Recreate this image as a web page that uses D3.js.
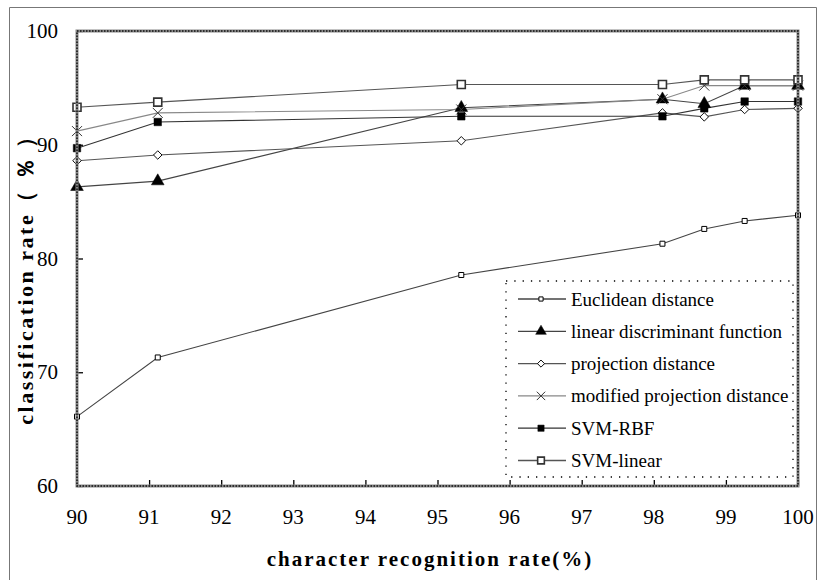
<!DOCTYPE html>
<html>
<head>
<meta charset="utf-8">
<script src="https://cdn.jsdelivr.net/npm/d3@7"></script>
<style>
  body { margin: 0; background: #fff; }
  svg { display: block; }
</style>
</head>
<body>
<script>
// Chart data
var recognitionRates = [90, 91.12, 95.33, 98.12, 98.7, 99.26, 100];
var euclideanDistance = [66.1, 71.3, 78.55, 81.3, 82.6, 83.3, 83.8];
var linearDiscriminant = [86.3, 86.8, 93.25, 94.0, 93.6, 95.2, 95.2];
var projectionDistance = [88.6, 89.1, 90.35, 92.8, 92.45, 93.1, 93.2];
var modifiedProjection = [91.2, 92.8, 93.1, 94.0, 95.2, 95.2, 95.2];
var svmRbf = [89.7, 92.0, 92.5, 92.5, 93.2, 93.8, 93.8];
var svmLinear = [93.3, 93.75, 95.3, 95.3, 95.7, 95.7, 95.7];

var seriesNames = ["Euclidean distance", "linear discriminant function", "projection distance",
    "modified projection distance", "SVM-RBF", "SVM-linear"];
var xTickValues = [90, 91, 92, 93, 94, 95, 96, 97, 98, 99, 100];
var yTickValues = [60, 70, 80, 90, 100];

var width = 818, height = 580;
var plot = { left: 77, right: 798, top: 31, bottom: 486 };

var svg = d3.select("body").append("svg")
    .attr("width", width)
    .attr("height", height)
    .style("font-family", "'Liberation Serif', 'Times New Roman', serif");

// outer frame (bottom edge runs off the picture)
svg.append("path")
    .attr("d", "M9.5," + (height + 2) + "V7.5H816.5V" + (height + 2))
    .attr("fill", "none")
    .attr("stroke", "#777")
    .attr("stroke-width", 1);

var x = d3.scaleLinear().domain([90, 100]).range([plot.left, plot.right]);
var y = d3.scaleLinear().domain([60, 100]).range([plot.bottom, plot.top]);

// ticks point inwards
svg.append("g")
    .attr("transform", "translate(0," + plot.bottom + ")")
    .call(d3.axisTop(x).tickValues(xTickValues).tickSize(6).tickFormat(""))
    .call(function (g) { g.select(".domain").remove(); })
    .selectAll("line").attr("stroke", "#000").attr("stroke-width", 1.3);

svg.append("g")
    .attr("transform", "translate(" + plot.left + ",0)")
    .call(d3.axisRight(y).tickValues(yTickValues).tickSize(6).tickFormat(""))
    .call(function (g) { g.select(".domain").remove(); })
    .selectAll("line").attr("stroke", "#000").attr("stroke-width", 1.3);

// tick labels
svg.append("g").selectAll("text")
    .data(xTickValues)
    .enter().append("text")
    .attr("x", function (d) { return x(d); })
    .attr("y", 524)
    .attr("text-anchor", "middle")
    .style("font-size", "21px")
    .text(function (d) { return d; });

svg.append("g").selectAll("text")
    .data(yTickValues)
    .enter().append("text")
    .attr("x", 58)
    .attr("y", function (d) { return y(d) + 7; })
    .attr("text-anchor", "end")
    .style("font-size", "21px")
    .text(function (d) { return d; });

// axis titles
svg.append("text")
    .attr("x", 430)
    .attr("y", 566)
    .attr("text-anchor", "middle")
    .style("font-size", "21px")
    .style("font-weight", "bold")
    .style("letter-spacing", "2px")
    .text("character recognition rate(%)");

svg.append("text")
    .attr("transform", "translate(33,274) rotate(-90)")
    .attr("text-anchor", "middle")
    .style("font-size", "22px")
    .style("font-weight", "bold")
    .style("letter-spacing", "2.5px")
    .text("classification rate（ ％ ）");

// series definitions: values plus how each is drawn
var series = [
    { name: seriesNames[0], values: euclideanDistance, marker: "smallSquare", line: "#444" },
    { name: seriesNames[1], values: linearDiscriminant, marker: "triangle", line: "#444" },
    { name: seriesNames[2], values: projectionDistance, marker: "diamond", line: "#555" },
    { name: seriesNames[3], values: modifiedProjection, marker: "cross", line: "#888" },
    { name: seriesNames[4], values: svmRbf, marker: "filledSquare", line: "#333" },
    { name: seriesNames[5], values: svmLinear, marker: "openSquare", line: "#555" }
];

function drawMarker(sel, type, scale) {
    var k = scale || 1;
    if (type === "smallSquare") {
        sel.append("path").attr("d", d3.symbol().type(d3.symbolSquare).size(25 * k)())
            .attr("fill", "#fff").attr("stroke", "#000").attr("stroke-width", 1);
    } else if (type === "triangle") {
        sel.append("path").attr("d", d3.symbol().type(d3.symbolTriangle).size(70 * k)())
            .attr("fill", "#000").attr("stroke", "#000").attr("stroke-width", 0.5);
    } else if (type === "diamond") {
        sel.append("path").attr("d", d3.symbol().type(d3.symbolSquare).size(36 * k)())
            .attr("transform", "rotate(45)")
            .attr("fill", "#fff").attr("stroke", "#000").attr("stroke-width", 0.9);
    } else if (type === "cross") {
        var r = 5 * Math.sqrt(k);
        sel.append("path").attr("d", "M" + -r + "," + -r + "L" + r + "," + r + "M" + -r + "," + r + "L" + r + "," + -r)
            .attr("fill", "none").attr("stroke", "#333").attr("stroke-width", 1);
    } else if (type === "filledSquare") {
        sel.append("path").attr("d", d3.symbol().type(d3.symbolSquare).size(56 * k)())
            .attr("fill", "#000").attr("stroke", "#000").attr("stroke-width", 0.5);
    } else if (type === "openSquare") {
        sel.append("path").attr("d", d3.symbol().type(d3.symbolSquare).size(64 * k)())
            .attr("fill", "#fff").attr("stroke", "#333").attr("stroke-width", 1.6);
    }
}

var line = d3.line()
    .x(function (d, i) { return x(recognitionRates[i]); })
    .y(function (d) { return y(d); });

var seriesGroup = svg.append("g").attr("class", "series");

series.forEach(function (s) {
    seriesGroup.append("path")
        .attr("d", line(s.values))
        .attr("fill", "none")
        .attr("stroke", s.line)
        .attr("stroke-width", 1.1);
});

series.forEach(function (s) {
    seriesGroup.selectAll(null)
        .data(s.values)
        .enter().append("g")
        .attr("transform", function (d, i) { return "translate(" + x(recognitionRates[i]) + "," + y(d) + ")"; })
        .each(function () { drawMarker(d3.select(this), s.marker); });
});

// plot area border, drawn last so it sits over the markers on the edges
svg.append("rect")
    .attr("x", plot.left)
    .attr("y", plot.top)
    .attr("width", plot.right - plot.left)
    .attr("height", plot.bottom - plot.top)
    .attr("fill", "none")
    .attr("stroke", "#888")
    .attr("stroke-width", 3);
svg.append("rect")
    .attr("x", plot.left)
    .attr("y", plot.top)
    .attr("width", plot.right - plot.left)
    .attr("height", plot.bottom - plot.top)
    .attr("fill", "none")
    .attr("stroke", "#111")
    .attr("stroke-width", 1.5)
    .attr("stroke-dasharray", "1.5,1.5");

// legend with dotted frame
var legend = svg.append("g").attr("class", "legend");
legend.append("rect")
    .attr("x", 506)
    .attr("y", 281)
    .attr("width", 287)
    .attr("height", 196)
    .attr("fill", "#fff")
    .attr("stroke", "#000")
    .attr("stroke-width", 1.3)
    .attr("stroke-dasharray", "1.3,7");

var legendRows = legend.selectAll("g.row")
    .data(series)
    .enter().append("g")
    .attr("class", "row")
    .attr("transform", function (d, i) { return "translate(0," + (299 + i * 32.3) + ")"; });

legendRows.append("line")
    .attr("x1", 518)
    .attr("x2", 566)
    .attr("stroke", function (d) { return d.line; })
    .attr("stroke-width", 1.3);

legendRows.append("g")
    .attr("transform", "translate(541,0)")
    .each(function (d) { drawMarker(d3.select(this), d.marker, 0.7); });

legendRows.append("text")
    .attr("x", 571)
    .attr("y", 6.5)
    .style("font-size", "19px")
    .text(function (d) { return d.name; });
</script>
</body>
</html>
